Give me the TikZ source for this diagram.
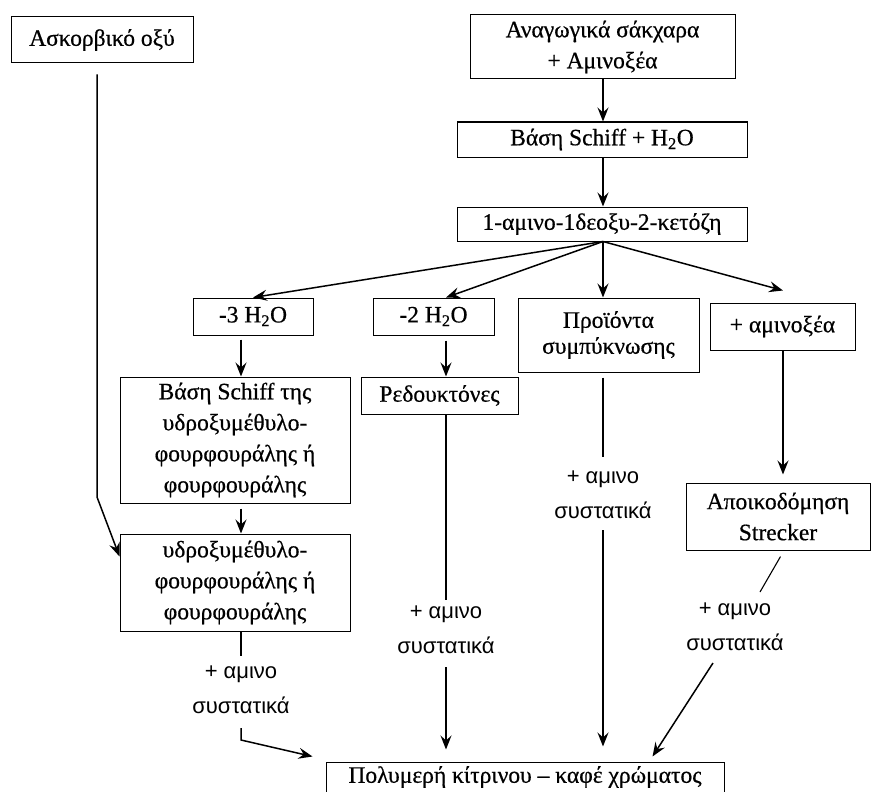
\documentclass[tikz,border=0pt]{standalone}
\usepackage{fontspec}
\setmainfont{Liberation Serif}
\newfontfamily\boitefont[FakeBold=0.6]{Liberation Serif}
\newfontfamily\etiqfont{Liberation Sans}
\usetikzlibrary{arrows.meta}

\begin{document}
\begin{tikzpicture}[x=1pt, y=-1pt]
\tikzset{boite/.style={draw, line width=1pt, inner sep=0pt, align=center, font=\boitefont\fontsize{23.5}{31}\selectfont},
etiq/.style={inner sep=0pt, align=center, font=\etiqfont\fontsize{22}{35}\selectfont},
fleche/.style={line width=1.5pt, -{Stealth[length=14pt, width=11pt, inset=5pt]}},
trait/.style={line width=1.1pt}}
\useasboundingbox (0,0) rectangle (871,792);
\coordinate (col1) at (241,0);
\coordinate (col2) at (446,0);
\coordinate (col3) at (603,0);
\coordinate (col4) at (783,0);
\coordinate (coude) at (97,497);
\node[boite, minimum width=182pt, minimum height=46pt] (asc) at (102,40) {Ασκορβικό οξύ};
\node[boite, minimum width=265pt, minimum height=64pt] (sug) at (602.5,47) {Αναγωγικά σάκχαρα\\+ Αμινοξέα};
\node[boite, minimum width=290pt, minimum height=35pt] (schiff) at (602,139.5) {Βάση Schiff + H\textsubscript{2}O};
\node[boite, minimum width=290pt, minimum height=34pt] (keto) at (602,224) {1-αμινο-1δεοξυ-2-κετόζη};
\node[boite, minimum width=120pt, minimum height=37pt] (m3) at (253,316.5) {-3 H\textsubscript{2}O};
\node[boite, minimum width=121pt, minimum height=37pt] (m2) at (433.5,316.5) {-2 H\textsubscript{2}O};
\node[boite, minimum width=181pt, minimum height=74pt, font=\boitefont\fontsize{23.5}{26}\selectfont] (cond) at (608.5,335) {Προϊόντα\\συμπύκνωσης};
\node[boite, minimum width=145pt, minimum height=47pt] (amino) at (782.5,326.5) {+ αμινοξέα};
\node[boite, minimum width=230pt, minimum height=126pt] (schiffhmf) at (235,440) {Βάση Schiff της\\υδροξυμέθυλο-\\φουρφουράλης ή\\φουρφουράλης};
\node[boite, minimum width=157pt, minimum height=37pt] (reduct) at (439.5,395.5) {Ρεδουκτόνες};
\node[boite, minimum width=230pt, minimum height=97pt] (hmf) at (235,582.5) {υδροξυμέθυλο-\\φουρφουράλης ή\\φουρφουράλης};
\node[boite, minimum width=184pt, minimum height=67pt] (strecker) at (778,516.5) {Αποικοδόμηση\\Strecker};
\node[boite, minimum width=398pt, minimum height=30pt] (poly) at (525,777) {Πολυμερή κίτρινου – καφέ χρώματος};
\node[etiq] (lab1) at (241,690) {+ αμινο\\συστατικά};
\node[etiq] (lab2) at (446,630) {+ αμινο\\συστατικά};
\node[etiq] (lab3) at (603,495) {+ αμινο\\συστατικά};
\node[etiq] (lab4) at (735,627) {+ αμινο\\συστατικά};
\draw[fleche] (sug.south -| col3) -- (schiff.north -| col3);
\draw[fleche] (schiff.south -| col3) -- (keto.north -| col3);
\draw[fleche] (keto.south -| col3) -- (m3.north);
\draw[fleche] (keto.south -| col3) -- (m2.north -| col2);
\draw[fleche] (keto.south -| col3) -- (cond.north -| col3);
\draw[fleche] (keto.south -| col3) -- ([yshift=12pt]amino.north -| col4);
\draw[fleche, shorten <=4pt] (m3.south -| col1) -- (schiffhmf.north -| col1);
\draw[fleche, shorten <=5pt] (schiffhmf.south -| col1) -- (hmf.north -| col1);
\draw[fleche, shorten <=5pt] (m2.south -| col2) -- (reduct.north -| col2);
\draw[fleche] (amino.south -| col4) -- ([yshift=8pt]strecker.north -| col4);
\draw[fleche, shorten <=11pt] (asc.south -| coude) -- (coude) -- ([yshift=-23pt]hmf.north west);
\draw[trait, shorten >=34pt] (hmf.south -| col1) -- (lab1.center);
\draw[fleche] ([yshift=-38pt]lab1.center) -- ++(0,12) -- ([xshift=-13pt,yshift=5pt]poly.north west);
\draw[trait, shorten >=30pt] (reduct.south -| col2) -- (lab2.center);
\draw[fleche, shorten <=37pt, shorten >=12pt] (lab2.center) -- (poly.north -| col2);
\draw[trait, shorten <=5pt, shorten >=38pt] (cond.south -| col3) -- (lab3.center);
\draw[fleche, shorten <=35pt, shorten >=15pt] (lab3.center) -- (poly.north -| col3);
\draw[trait, shorten <=7pt] ([xshift=6pt]strecker.south) -- ([xshift=25pt,yshift=35pt]lab4.center);
\draw[fleche] ([xshift=-22pt,yshift=-36pt]lab4.center) -- ([xshift=-72pt,yshift=5pt]poly.north east);
\end{tikzpicture}
\end{document}
